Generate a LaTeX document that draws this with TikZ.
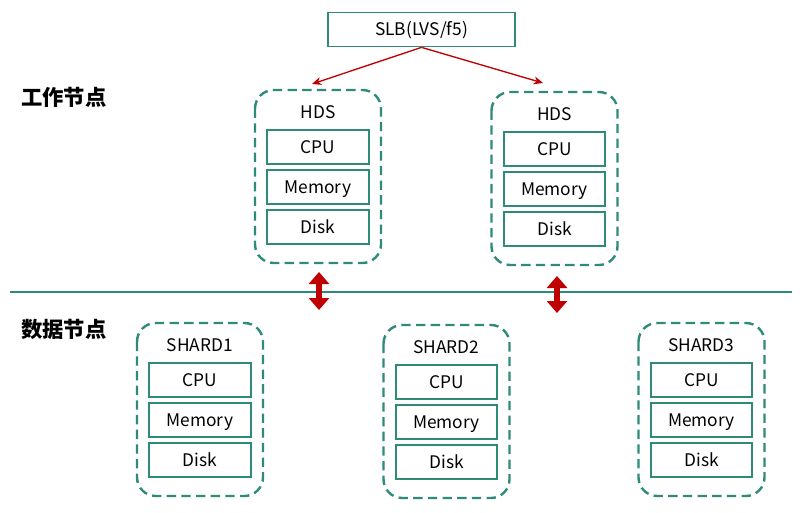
\documentclass[tikz,border=0pt]{standalone}
\usepackage{fontspec}
\setmainfont{Noto Sans CJK SC}
\usetikzlibrary{arrows.meta}
\definecolor{teal1}{HTML}{2E8B7A}
\definecolor{red1}{HTML}{C00000}
\begin{document}
\begin{tikzpicture}[x=0.75pt,y=-0.75pt,
  box/.style={draw=teal1,line width=1.3pt,minimum width=76pt,minimum height=25.5pt,inner sep=0pt,text height=9.5pt,text depth=0pt,font=\fontsize{13}{13}\selectfont},
  grp/.style={draw=teal1,line width=1.8pt,dash pattern=on 7pt off 4pt,rounded corners=14pt},
  ttl/.style={text height=9.5pt,text depth=0pt,font=\fontsize{13}{13}\selectfont},
  lab/.style={text height=11pt,text depth=0pt,font=\bfseries\fontsize{16}{16}\selectfont},
  ar/.style={draw=red1,line width=1pt,-{Stealth[length=7pt,width=6pt]}},
  dar/.style={draw=red1,line width=4.5pt,{Triangle[length=9pt,width=15pt]}-{Triangle[length=9pt,width=15pt]}}]
\useasboundingbox (0,0) rectangle (802,513);
\node[box,minimum width=140pt] (slb) at (421.5,29.5) {SLB(LVS/f5)};
\def\grpbox#1#2#3#4{%
  \draw[grp] (#2-63,#3) rectangle (#2+63,#3+173);
  \node[ttl] (#1t) at (#2,#3+22) {#4};
  \node[box] (#1c) at (#2,#3+57) {CPU};
  \node[box] (#1m) at (#2,#3+97) {Memory};
  \node[box] (#1d) at (#2,#3+137) {Disk};}
\grpbox{h1}{318}{90}{HDS}
\grpbox{h2}{554.5}{92}{HDS}
\grpbox{s1}{200}{323}{SHARD1}
\grpbox{s2}{446.5}{325}{SHARD2}
\grpbox{s3}{701.5}{323}{SHARD3}
\draw[ar] (slb.south) -- (312,84);
\draw[ar] (slb.south) -- (543,83);
\draw[teal1,line width=1.2pt] (10,292) coordinate (l1) -- (792,292) coordinate (l2);
\coordinate (a1) at (319,272); \coordinate (b1) at (319,310);
\coordinate (a2) at (557,276); \coordinate (b2) at (557,313);
\draw[dar] (a1) -- (b1);
\draw[dar] (a2) -- (b2);
\node[lab] (w) at (64,98) {工作节点};
\node[lab] (d) at (64,330) {数据节点};
\end{tikzpicture}
\end{document}
